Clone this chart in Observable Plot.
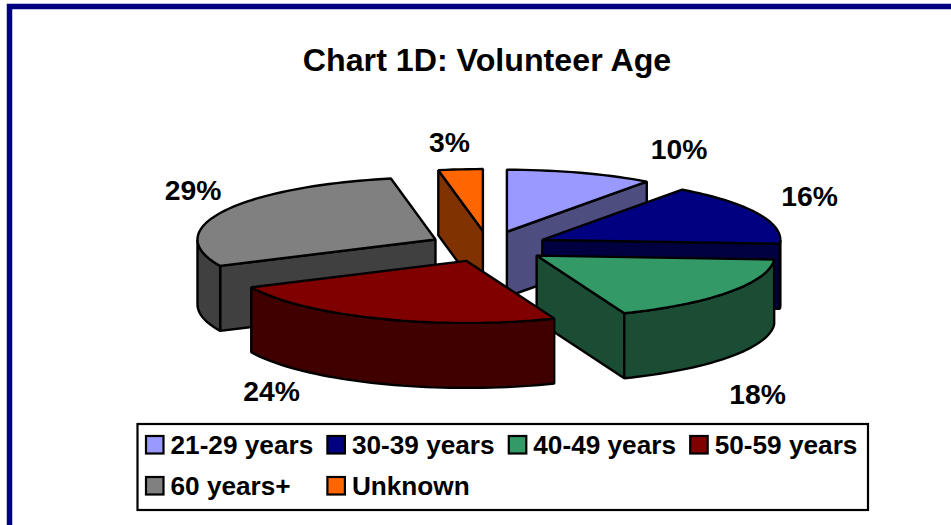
<!DOCTYPE html>
<html>
<head>
<meta charset="utf-8">
<style>html,body{margin:0;padding:0;background:#fff;overflow:hidden}svg{display:block}</style>
<script src="https://cdn.jsdelivr.net/npm/d3@7"></script>
<script src="https://cdn.jsdelivr.net/npm/@observablehq/plot@0.6"></script>
</head>
<body>
<script>
// Chart data
const categories = ["21-29 years", "30-39 years", "40-49 years", "50-59 years", "60 years+", "Unknown"];
const shares = [10, 16, 18, 24, 29, 3];
const topColors = ["#9999FF", "#000080", "#339966", "#800000", "#808080", "#FF6600"];
const wallColors = ["#4D4D80", "#000040", "#1A4D33", "#400000", "#404040", "#803300"];
const title = "Chart 1D: Volunteer Age";

// Layout of the labels and legend (pixels of the 951x525 page)
const labelX = [678.5, 809, 757, 271, 192.5, 449];
const labelY = [149.3, 196.3, 394.3, 391.3, 190.3, 142.3];
const legendCol = [0, 1, 2, 3, 0, 1];
const legendRow = [0, 0, 0, 0, 1, 1];
const paintOrder = [0, 5, 4, 1, 2, 3];

// Projection of the exploded 3D pie
const pie3d = {cx: 488, cy: 246, rx: 238, ry: 62, depth: 65, explode: 0.25};
const rad = (deg) => deg * Math.PI / 180;
const rim = (o, deg, drop = 0) => [
  o[0] + pie3d.rx * Math.sin(rad(deg)),
  o[1] - pie3d.ry * Math.cos(rad(deg)) + drop
];
const arc = (a, b, drop = 0) => {
  const n = Math.max(1, Math.ceil((b - a) / 2));
  return d3.range(n + 1).map((i) => a + (b - a) * i / n).map((t) => [t, drop]);
};

const total = d3.sum(shares);
let running = 0;
const slices = shares.map((v, i) => {
  const a = running / total * 360;
  running += v;
  const b = running / total * 360;
  const mid = rad((a + b) / 2);
  const o = [
    pie3d.cx + pie3d.explode * pie3d.rx * Math.sin(mid),
    pie3d.cy - pie3d.explode * pie3d.ry * Math.cos(mid)
  ];
  return {i, a, b, o};
});

const faces = [];
const addFace = (id, pts, fill) => pts.forEach(([x, y]) => faces.push({id, x, y, fill}));
for (const i of paintOrder) {
  const {a, b, o} = slices[i];
  const d = pie3d.depth;
  const apex = (drop) => [o[0], o[1] + drop];
  // side faces that look towards the viewer
  if (Math.sin(rad(a)) < -1e-9) addFace(`s${i}a`, [apex(0), rim(o, a), rim(o, a, d), apex(d)], wallColors[i]);
  if (Math.sin(rad(b)) > 1e-9) addFace(`s${i}b`, [apex(0), rim(o, b), rim(o, b, d), apex(d)], wallColors[i]);
  // outer curved band: front half of the rim only
  const f0 = Math.max(a, 90), f1 = Math.min(b, 270);
  if (f1 > f0) {
    const top = arc(f0, f1).map(([t]) => rim(o, t));
    const bottom = arc(f0, f1).map(([t]) => rim(o, t, d)).reverse();
    addFace(`r${i}`, [...top, ...bottom], wallColors[i]);
  }
  // top face
  addFace(`t${i}`, [apex(0), ...arc(a, b).map(([t]) => rim(o, t))], topColors[i]);
}

const labels = shares.map((v, i) => ({text: `${v}%`, x: labelX[i], y: labelY[i]}));

const legendX0 = 146, legendStepX = 181.4, legendY0 = 436, legendStepY = 41, swatch = 17.5;
const legend = categories.map((name, i) => {
  const x = legendX0 + legendCol[i] * legendStepX;
  const y = legendY0 + legendRow[i] * legendStepY;
  return {name, fill: topColors[i], x1: x, x2: x + swatch, y1: y, y2: y + swatch, tx: x + 24, ty: y + 9.5};
});

const fontFamily = "'Liberation Sans', Arial, sans-serif";
const chart = Plot.plot({
  width: 951,
  height: 525,
  margin: 0,
  style: {background: "#fff", fontFamily},
  x: {domain: [0, 951], range: [0, 951], axis: null},
  y: {domain: [0, 525], range: [0, 525], axis: null},
  marks: [
    // navy outer frame
    Plot.rect([{x1: 9.5, x2: 960, y1: 6.5, y2: 540}], {x1: "x1", x2: "x2", y1: "y1", y2: "y2", fill: "none", stroke: "#000080", strokeWidth: 5.5}),
    Plot.text([title], {x: 486.5, y: 60.5, text: (d) => d, fontSize: 32.2, fontWeight: "bold", fill: "#000", textAnchor: "middle"}),
    Plot.line(faces, {x: "x", y: "y", z: "id", fill: "fill", stroke: "#000", strokeWidth: 2.4, curve: "linear-closed", strokeLinejoin: "miter"}),
    Plot.text(labels, {x: "x", y: "y", text: "text", fontSize: 28.3, fontWeight: "bold", fill: "#000", textAnchor: "middle"}),
    // legend
    Plot.rect([{x1: 137.5, x2: 868, y1: 424, y2: 510}], {x1: "x1", x2: "x2", y1: "y1", y2: "y2", fill: "#fff", stroke: "#000", strokeWidth: 2.2}),
    Plot.rect(legend, {x1: "x1", x2: "x2", y1: "y1", y2: "y2", fill: "fill", stroke: "#000", strokeWidth: 2.2}),
    Plot.text(legend, {x: "tx", y: "ty", text: "name", fontSize: 26.2, fontWeight: "bold", fill: "#000", textAnchor: "start"})
  ]
});
document.body.appendChild(chart);
</script>
</body>
</html>
